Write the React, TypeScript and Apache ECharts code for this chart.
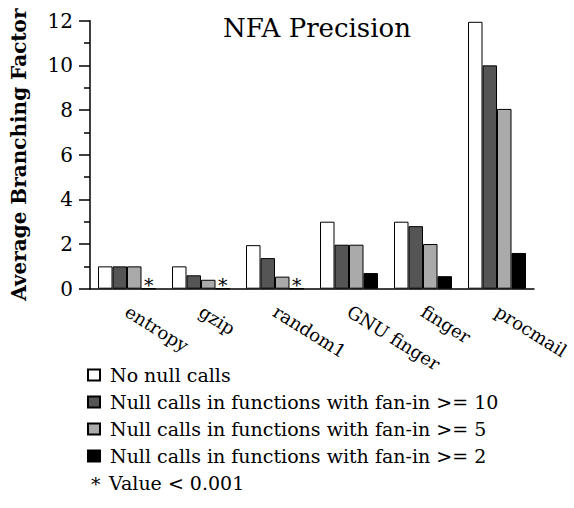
import React, { useEffect, useRef } from "react";
import * as echarts from "echarts";

const categories = ["entropy", "gzip", "random1", "GNU finger", "finger", "procmail"];
const seriesNames = [
  "No null calls",
  "Null calls in functions with fan-in >= 10",
  "Null calls in functions with fan-in >= 5",
  "Null calls in functions with fan-in >= 2",
];
const noNull = [1, 1, 1.95, 3, 3, 11.95];
const fanIn10 = [1, 0.6, 1.37, 1.97, 2.8, 10];
const fanIn5 = [1, 0.4, 0.54, 1.97, 2, 8.05];
const fanIn2 = [0, 0, 0, 0.7, 0.56, 1.6];
const tinyFlags = [true, true, true, false, false, false];
const colors = ["#ffffff", "#555555", "#aaaaaa", "#000000"];
const yTicks = [0, 2, 4, 6, 8, 10, 12];

const FONT = "DejaVu Serif";

export default function App() {
  const ref = useRef<HTMLDivElement>(null);
  useEffect(() => {
    if (!ref.current) return;
    const chart = echarts.init(ref.current, null, { renderer: "svg" });
    const all = [noNull, fanIn10, fanIn5, fanIn2];
    const series = all.map((arr, si) => ({
      name: seriesNames[si],
      type: "bar",
      barWidth: 14.5,
      barGap: "0%",
      itemStyle: { color: colors[si], borderColor: "#000", borderWidth: 1 },
      data: arr.map((v, i) =>
        si === 3 && tinyFlags[i]
          ? {
              value: v,
              label: {
                show: true,
                position: "top",
                distance: -6,
                formatter: "*",
                fontFamily: FONT,
                fontSize: 19,
                color: "#000",
              },
            }
          : v
      ),
    }));
    chart.setOption({
      animation: false,
      backgroundColor: "#fff",
      textStyle: { fontFamily: FONT },
      title: {
        text: "NFA Precision",
        left: 312,
        textAlign: "center",
        top: 10,
        textStyle: { fontFamily: FONT, fontSize: 26, fontWeight: "normal", color: "#000" },
      },
      grid: {
        left: 90,
        right: 40,
        top: 20.7,
        bottom: 219.3,
        containLabel: false,
        outerBoundsMode: "none",
      },
      xAxis: {
        type: "category",
        data: categories,
        axisLine: { lineStyle: { color: "#000", width: 1.5 } },
        axisTick: { show: false },
        axisLabel: {
          rotate: -32,
          margin: 21,
          fontFamily: FONT,
          fontSize: 18,
          color: "#000",
        },
      },
      yAxis: {
        type: "value",
        min: yTicks[0],
        max: yTicks[yTicks.length - 1],
        interval: 2,
        name: "Average Branching Factor",
        nameLocation: "middle",
        nameGap: 61,
        nameTextStyle: {
          fontFamily: FONT,
          fontSize: 20,
          fontWeight: "bold",
          color: "#000",
        },
        axisLine: { show: true, lineStyle: { color: "#000", width: 1.5 } },
        axisTick: { show: true, length: 11, lineStyle: { color: "#000", width: 1.5 } },
        minorTick: { show: true, splitNumber: 2, length: 6, lineStyle: { color: "#000", width: 1.5 } },
        splitLine: { show: false },
        axisLabel: { margin: 17, fontFamily: FONT, fontSize: 20, color: "#000" },
      },
      legend: {
        orient: "vertical",
        left: 87,
        top: 363,
        padding: 0,
        itemWidth: 12,
        itemHeight: 11,
        itemGap: 3,
        icon: "rect",
        selectedMode: false,
        textStyle: { fontFamily: FONT, fontSize: 19, color: "#000", lineHeight: 24, padding: [0, 0, 0, 5] },
        data: seriesNames,
      },
      graphic: [
        {
          type: "text",
          x: 91,
          y: 484,
          style: { text: "*", fontFamily: FONT, fontSize: 19, fill: "#000", verticalAlign: "middle" },
        },
        {
          type: "text",
          x: 109,
          y: 483,
          style: { text: "Value < 0.001", fontFamily: FONT, fontSize: 19, fill: "#000", verticalAlign: "middle" },
        },
      ],
      series,
    });
    return () => chart.dispose();
  }, []);
  return (
    <div
      ref={ref}
      style={{ position: "fixed", left: 0, top: 0, width: 574, height: 508 }}
    />
  );
}
